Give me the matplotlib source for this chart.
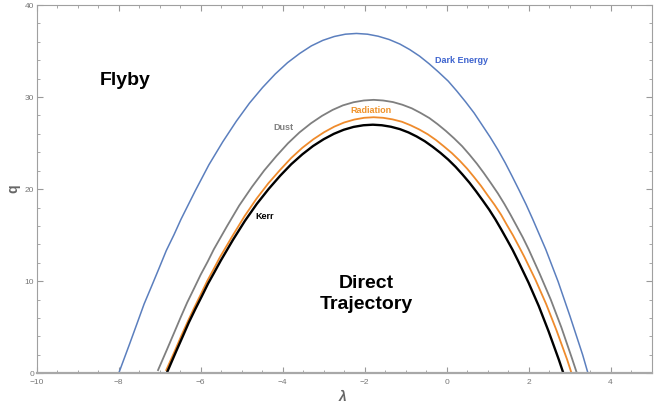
import numpy as np
import matplotlib.pyplot as plt
from matplotlib.ticker import MultipleLocator

plt.rcParams['font.family'] = ['Liberation Sans', 'DejaVu Sans']

# curves (lambda, q)
kerr_lam = [-6.83, -6.60, -6.44, -6.29, -6.13, -5.97, -5.82, -5.66, -5.51, -5.21, -4.92, -4.63, -4.34, -4.06,
            -3.79, -3.52, -3.26, -3.00, -2.75, -2.51, -2.27, -2.03, -1.80, -1.58, -1.36, -1.14, -0.93, -0.73,
            -0.53, -0.34, -0.15, 0.04, 0.22, 0.39, 0.56, 0.72, 0.88, 1.04, 1.19, 1.33, 1.47, 1.61, 1.74,
            2.00, 2.25, 2.49, 2.74, 2.85]
kerr_q = [0, 2.37, 3.98, 5.51, 6.98, 8.39, 9.74, 11.02, 12.24, 14.51, 16.56, 18.40, 20.03, 21.46,
          22.71, 23.78, 24.68, 25.42, 26.01, 26.45, 26.76, 26.94, 27.00, 26.94, 26.78, 26.52, 26.16, 25.72,
          25.20, 24.60, 23.94, 23.21, 22.42, 21.58, 20.69, 19.76, 18.78, 17.77, 16.72, 15.65, 14.54, 13.41, 12.25,
          9.84, 7.29, 4.54, 1.46, 0]

rad_lam = [-6.84, -6.63, -6.47, -6.31, -6.15, -5.99, -5.84, -5.68, -5.53, -5.22, -4.93, -4.64, -4.35, -4.06,
           -3.79, -3.52, -3.25, -2.99, -2.74, -2.50, -2.25, -2.01, -1.78, -1.55, -1.32, -1.09, -0.88, -0.67,
           -0.46, -0.26, -0.07, 0.13, 0.32, 0.50, 0.67, 0.84, 1.00, 1.17, 1.33, 1.47, 1.62, 1.76, 1.90,
           2.17, 2.43, 2.68, 2.94, 3.05]
rad_q = [0.35, 2.44, 4.10, 5.68, 7.19, 8.64, 10.03, 11.35, 12.61, 14.95, 17.06, 18.95, 20.63, 22.10,
         23.39, 24.49, 25.42, 26.18, 26.79, 27.24, 27.56, 27.75, 27.81, 27.75, 27.58, 27.32, 26.94, 26.49,
         25.96, 25.34, 24.66, 23.91, 23.09, 22.23, 21.31, 20.35, 19.34, 18.30, 17.22, 16.12, 14.98, 13.81, 12.62,
         10.14, 7.51, 4.68, 1.50, 0]

dust_lam = [-7.04, -6.82, -6.65, -6.49, -6.33, -6.16, -6.00, -5.83, -5.68, -5.36, -5.06, -4.75, -4.45, -4.15,
            -3.87, -3.59, -3.31, -3.04, -2.78, -2.53, -2.27, -2.02, -1.78, -1.55, -1.31, -1.08, -0.85, -0.64,
            -0.42, -0.22, -0.02, 0.18, 0.38, 0.56, 0.74, 0.91, 1.08, 1.25, 1.41, 1.56, 1.71, 1.86, 2.00,
            2.27, 2.54, 2.80, 3.06, 3.18]
dust_q = [0.35, 2.61, 4.38, 6.06, 7.68, 9.23, 10.71, 12.12, 13.46, 15.96, 18.22, 20.24, 22.03, 23.61,
          24.98, 26.16, 27.15, 27.96, 28.61, 29.10, 29.44, 29.63, 29.70, 29.63, 29.46, 29.17, 28.78, 28.29,
          27.72, 27.06, 26.33, 25.53, 24.66, 23.74, 22.76, 21.74, 20.66, 19.55, 18.39, 17.22, 15.99, 14.75, 13.48,
          10.82, 8.02, 4.99, 1.61, 0]

de_lam = [-8.00, -7.73, -7.55, -7.38, -7.19, -7.01, -6.84, -6.65, -6.48, -6.13, -5.80, -5.46, -5.13, -4.81,
          -4.49, -4.18, -3.88, -3.58, -3.30, -3.02, -2.74, -2.47, -2.20, -1.93, -1.67, -1.40, -1.14, -0.90,
          -0.66, -0.43, -0.20, 0.04, 0.25, 0.46, 0.67, 0.86, 1.06, 1.25, 1.43, 1.60, 1.77, 1.94, 2.10,
          2.42, 2.72, 3.01, 3.32, 3.45]
de_q = [0, 3.24, 5.44, 7.53, 9.54, 11.47, 13.32, 15.06, 16.73, 19.84, 22.64, 25.15, 27.38, 29.34,
        31.04, 32.51, 33.74, 34.75, 35.56, 36.16, 36.58, 36.83, 36.91, 36.83, 36.61, 36.25, 35.76, 35.16,
        34.45, 33.63, 32.73, 31.73, 30.65, 29.50, 28.28, 27.01, 25.67, 24.29, 22.86, 21.39, 19.88, 18.33, 16.75,
        13.45, 9.97, 6.21, 2.00, 0]

fig = plt.figure(figsize=(6.63, 4.07), dpi=100)
ax = fig.add_axes([0.0554, 0.0828, 0.9273, 0.9049])

ax.plot(de_lam, de_q, color='#5B7FBE', lw=1.1)
ax.plot(dust_lam, dust_q, color='#7F7F7F', lw=1.3)
ax.plot(rad_lam, rad_q, color='#EF8B2C', lw=1.3)
ax.plot(kerr_lam, kerr_q, color='black', lw=1.7)

ax.set_xlim(-10, 5)
ax.set_ylim(0, 40)

ax.xaxis.set_major_locator(MultipleLocator(2))
ax.xaxis.set_minor_locator(MultipleLocator(0.5))
ax.yaxis.set_major_locator(MultipleLocator(10))
ax.yaxis.set_minor_locator(MultipleLocator(2))
ax.tick_params(which='both', direction='in', top=True, right=True, colors='#999999',
               labelcolor='#777777', labelsize=6, pad=2)
ax.tick_params(axis='x', pad=4)
ax.tick_params(which='major', length=4, width=0.8)
ax.tick_params(which='minor', length=2.5, width=0.6)
ax.set_xticks([-10, -8, -6, -4, -2, 0, 2, 4])
ax.set_xticklabels(['\u221210', '\u22128', '\u22126', '\u22124', '\u22122', '0', '2', '4'])
ax.tick_params(axis='x', labeltop=False)
ax.tick_params(axis='y', labelright=False)
for side in ['top', 'right', 'left']:
    ax.spines[side].set_color('#A0A0A0')
    ax.spines[side].set_linewidth(0.8)
ax.spines['bottom'].set_color('#A8A8A8')
ax.spines['bottom'].set_linewidth(1.6)

ax.text(-0.0385, 0.5, 'q', transform=ax.transAxes, rotation=90, ha='center', va='center',
        fontsize=10, fontweight='bold', color='#666666')
ax.text(0.498, -0.064, '\u03bb', transform=ax.transAxes, ha='center', va='center',
        fontsize=10, fontweight='bold', fontstyle='italic', color='#666666')

ax.text(-7.85, 31.8, 'Flyby', ha='center', va='center', fontsize=14, fontweight='bold')
ax.text(-1.95, 8.6, 'Direct\nTrajectory', ha='center', va='center', fontsize=14, fontweight='bold',
        linespacing=1.3)
ax.text(0.37, 34.0, 'Dark Energy', ha='center', va='center', fontsize=6.5, fontweight='bold', color='#3E64CF')
ax.text(-1.85, 28.5, 'Radiation', ha='center', va='center', fontsize=6.5, fontweight='bold', color='#F0932B')
ax.text(-3.98, 26.75, 'Dust', ha='center', va='center', fontsize=6.5, fontweight='bold', color='#808080')
ax.text(-4.44, 17.0, 'Kerr', ha='center', va='center', fontsize=6.5, fontweight='bold', color='black')

fig.savefig('out.png', dpi=100)
